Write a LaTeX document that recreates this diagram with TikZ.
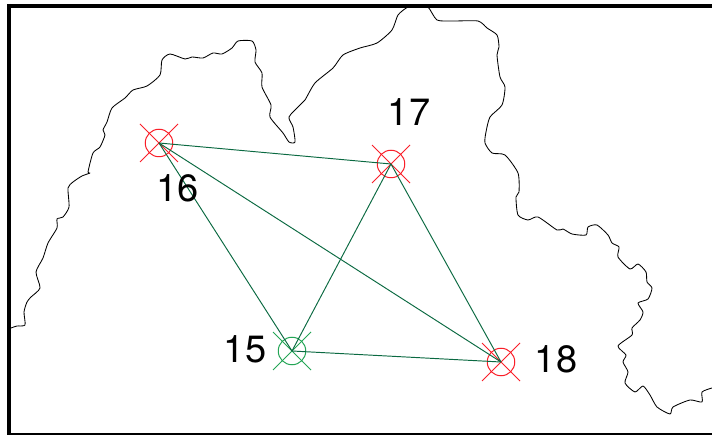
\documentclass[tikz,border=0pt]{standalone}
\usepackage{fontspec}
\setmainfont{TeX Gyre Heros}
\usetikzlibrary{shapes.misc}
\definecolor{linkgreen}{RGB}{10,105,65}
\definecolor{sitegreen}{RGB}{35,165,85}
\definecolor{sitered}{RGB}{250,30,40}
\tikzset{
  frameline/.style={black,line width=4pt},
  border/.style={black,line width=0.85pt,line join=round},
  link/.style={linkgreen,line width=0.95pt},
  sitering/.style={circle,draw=#1,line width=1pt,minimum size=27.5pt,inner sep=0pt,outer sep=0pt},
  sitecross/.style={cross out,draw=#1,line width=1pt,minimum size=38pt,inner sep=0pt,outer sep=0pt},
  numlabel/.style={font=\fontsize{38}{38}\selectfont,text=black,inner sep=0pt}
}
\begin{document}
\begin{tikzpicture}[x=1pt,y=-1pt]
\useasboundingbox (0,0) rectangle (712,435);
\fill[white] (0,0) rectangle (712,435);
\begin{scope}
\clip (0,0) rectangle (712,435);
\draw[border] plot[smooth,tension=0.4] coordinates {
(11,328)(17,326)(25,325)(24,312)(27,302)(31,297)(40,288)(36,272)(43,258)(48,243)(57,228)(57,219)(63,217)
(69,207)(68,188)(73,182)(82,176)(90,173)(88,172)(93,153)(100,147)(105,135)(103,130)(107,122)(112,108)
(125,98)(133,90)(147,86)(160,75)(162,60)(170,54)(185,59)(192,57)(203,58)(213,53)(222,54)(232,48)(238,41)
(252,41)(256,50)(255,62)(262,73)(262,87)(271,105)(270,117)(283,133)(289,142)(295,142)(293,127)(289,117)
(300,105)(305,100)(315,83)(333,68)(343,55)(360,48)(377,43)(392,30)(398,15)(408,7)(418,6)(428,7)(437,20)(453,21)
(478,21)(487,28)(497,35)(499,47)(497,55)(500,77)(505,87)(502,105)(490,117)(486,132)(485,143)(492,153)
(505,155)(518,173)(519,192)(516,197)(518,215)(528,220)(538,217)(557,230)(563,229)(572,234)(586,235)
(588,227)(597,225)(608,235)(612,243)(619,247)(618,257)(630,269)(638,264)(646,272)(647,282)(652,288)
(648,299)(638,303)(643,312)(640,320)(632,328)(632,335)(618,346)(626,355)(623,362)(628,372)(625,383)
(635,392)(643,386)(650,395)(657,407)(670,414)(673,407)(690,400)(702,402)(702,392)(712,388)};
\end{scope}
\draw[frameline] (9,6) -- (712,6);
\draw[frameline] (9,4) -- (9,435);
\draw[black,line width=1.5pt] (7,434.2) -- (712,434.2);

\node[sitering=sitered]   (s16) at (159,143) {};
\node[sitering=sitered]   (s17) at (391,164) {};
\node[sitering=sitered]   (s18) at (501,362) {};
\node[sitering=sitegreen] (s15) at (292,351) {};
\node[sitecross=sitered]   (x16) at (s16) {};
\node[sitecross=sitered]   (x17) at (s17) {};
\node[sitecross=sitered]   (x18) at (s18) {};
\node[sitecross=sitegreen] (x15) at (s15) {};

\draw[link] (s16.center) -- (s17.center);
\draw[link] (s16.center) -- (s15.center);
\draw[link] (s16.center) -- (s18.center);
\draw[link] (s17.center) -- (s15.center);
\draw[link] (s17.center) -- (s18.center);
\draw[link] (s15.center) -- (s18.center);

\node[numlabel] (l16) at (177.5,188) {16};
\node[numlabel] (l17) at (409,112) {17};
\node[numlabel] (l18) at (556,359) {18};
\node[numlabel] (l15) at (245,349) {15};
\end{tikzpicture}
\end{document}
